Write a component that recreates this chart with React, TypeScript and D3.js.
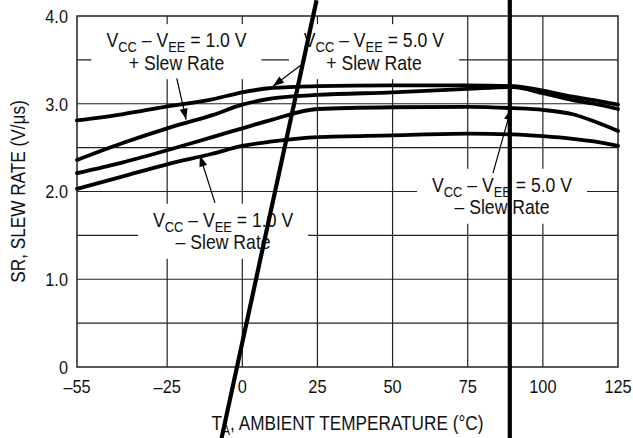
import React from 'react';
import * as d3 from 'd3';

const W = 633;
const H = 438;

// axis domains and ticks
const xDomain: [number, number] = [-55, 125];
const yDomain: [number, number] = [0, 4];
const xTicks = [-55, -25, 0, 25, 50, 75, 100, 125];
const xTickLabels = ['\u201355', '\u201325', '0', '25', '50', '75', '100', '125'];
const yTicks = [0, 1, 2, 3, 4];
const yTickLabels = ['0', '1.0', '2.0', '3.0', '4.0'];
const xGrid = [-25, 0, 25, 50, 75, 100];
const yGrid = [0.5, 1, 1.5, 2, 2.5, 3, 3.5];

// temperature samples (°C)
const temps = [-55, -40, -25, -10, 0, 10, 25, 50, 75, 90, 100, 110, 117, 125];
// slew-rate curves (V/µs)
const sr5Plus = [2.81, 2.88, 2.97, 3.05, 3.13, 3.18, 3.2, 3.21, 3.21, 3.2, 3.15, 3.08, 3.04, 2.99];
const sr1Plus = [2.36, 2.55, 2.72, 2.87, 2.99, 3.06, 3.1, 3.13, 3.17, 3.19, 3.12, 3.04, 3.0, 2.94];
const sr5Minus = [2.21, 2.33, 2.47, 2.62, 2.72, 2.82, 2.94, 2.96, 2.965, 2.95, 2.93, 2.88, 2.8, 2.69];
const sr1Minus = [2.03, 2.17, 2.31, 2.43, 2.52, 2.57, 2.62, 2.64, 2.66, 2.65, 2.63, 2.6, 2.57, 2.52];
const seriesList = [sr5Plus, sr1Plus, sr5Minus, sr1Minus];

// annotation labels: [centre T, baseline SR], supply voltage, sign
const labelPos: [number, number][] = [[-21.9, 3.645], [43.8, 3.645], [-6.4, 1.598], [86.4, 1.997]];
const labelVolt = ['1.0', '5.0', '1.0', '5.0'];
const labelSign = ['+', '+', '\u2013', '\u2013'];
// arrows: from / to in data units
const arrowFrom: [number, number][] = [[-21.8, 3.29], [19.9, 3.45], [-9.1, 1.87], [83.4, 2.21]];
const arrowTo: [number, number][] = [[-18.7, 2.82], [10.2, 3.2], [-14.1, 2.41], [89.4, 2.94]];

// heavy scan-artifact strokes in data units
const scanLines: [number, number][][] = [
  [[89.0, 4.2], [89.0, -0.82]],
  [[24.7, 4.18], [-6.9, -0.81]],
];

const FONT = "'Liberation Sans Narrow', 'Arial Narrow', 'Liberation Sans', Arial, sans-serif";
const SX = 0.86;

export default function App() {
  const left = 77, right = 618, top = 16, bottom = 367;
  const x = d3.scaleLinear().domain(xDomain).range([left, right]);
  const y = d3.scaleLinear().domain(yDomain).range([bottom, top]);
  const line = d3
    .line<number>()
    .x((_, i) => x(temps[i]))
    .y((d) => y(d))
    .curve(d3.curveMonotoneX);

  const arrowHead = (fx: number, fy: number, tx: number, ty: number) => {
    const ang = Math.atan2(ty - fy, tx - fx);
    const len = 11, half = 4;
    const bx = tx - len * Math.cos(ang), by = ty - len * Math.sin(ang);
    const px = -Math.sin(ang) * half, py = Math.cos(ang) * half;
    return `M${tx},${ty}L${bx + px},${by + py}L${bx - px},${by - py}Z`;
  };

  const tr = (px: number, py: number) => `translate(${px},${py}) scale(${SX},1)`;

  return (
    <svg width={W} height={H} style={{ position: 'absolute', left: 0, top: 0, background: '#fff' }} fontFamily={FONT}>
      <rect x={0} y={0} width={W} height={H} fill="#fff" />
      {/* grid */}
      {xGrid.map((t) => (
        <line key={'gx' + t} x1={x(t)} x2={x(t)} y1={top} y2={bottom} stroke="#222" strokeWidth={1.2} />
      ))}
      {yGrid.map((v) => (
        <line key={'gy' + v} x1={left} x2={right} y1={y(v)} y2={y(v)} stroke="#222" strokeWidth={1.2} />
      ))}
      <rect x={left} y={top} width={right - left} height={bottom - top} fill="none" stroke="#222" strokeWidth={1.5} />

      {/* label boxes and labels */}
      {labelPos.map((p, i) => {
        const cx = x(p[0]);
        const by = y(p[1]);
        return (
          <g key={'lab' + i}>
            <rect x={cx - 85} y={by - 23} width={170} height={55} fill="#fff" />
            <text transform={tr(cx, by)} textAnchor="middle" fontSize={20.5} fill="#111">
              V<tspan fontSize={15} dy={5}>CC</tspan>
              <tspan dy={-5}> {'\u2013'} V</tspan>
              <tspan fontSize={15} dy={5}>EE</tspan>
              <tspan dy={-5}> = {labelVolt[i]} V</tspan>
            </text>
            <text transform={tr(cx, by + 22.5)} textAnchor="middle" fontSize={20.5} fill="#111">
              {labelSign[i]} Slew Rate
            </text>
          </g>
        );
      })}

      {/* curves */}
      {seriesList.map((s, i) => (
        <path key={'s' + i} d={line(s) || ''} fill="none" stroke="#000" strokeWidth={3.8} strokeLinecap="round" />
      ))}

      {/* arrows */}
      {arrowFrom.map((f, i) => {
        const fx = x(f[0]), fy = y(f[1]);
        const tx = x(arrowTo[i][0]), ty = y(arrowTo[i][1]);
        return (
          <g key={'ar' + i}>
            <line x1={fx} y1={fy} x2={tx} y2={ty} stroke="#000" strokeWidth={1.2} />
            <path d={arrowHead(fx, fy, tx, ty)} fill="#000" />
          </g>
        );
      })}

      {/* axes labels */}
      {xTicks.map((t, i) => (
        <text key={'xt' + t} transform={tr(x(t), 393)} textAnchor="middle" fontSize={19} fill="#111">
          {xTickLabels[i]}
        </text>
      ))}
      {yTicks.map((v, i) => (
        <text key={'yt' + v} transform={tr(68, y(v))} dy="0.36em" textAnchor="end" fontSize={19} fill="#111">
          {yTickLabels[i]}
        </text>
      ))}
      <text transform={tr((left + right) / 2, 430)} textAnchor="middle" fontSize={20} fill="#111">
        T<tspan fontSize={14} dy={5}>A</tspan>
        <tspan dy={-5}>, AMBIENT TEMPERATURE ({'\u00B0'}C)</tspan>
      </text>
      <text
        transform={`translate(${25},${(top + bottom) / 2}) rotate(-90) scale(${SX},1)`}
        textAnchor="middle"
        fontSize={20}
        fill="#111"
      >
        SR, SLEW RATE (V/{'\u03BC'}s)
      </text>

      {/* scan artifact strokes */}
      {scanLines.map((seg, i) => (
        <line
          key={'scan' + i}
          x1={x(seg[0][0])}
          y1={y(seg[0][1])}
          x2={x(seg[1][0])}
          y2={y(seg[1][1])}
          stroke="#000"
          strokeWidth={4.2}
        />
      ))}
    </svg>
  );
}
